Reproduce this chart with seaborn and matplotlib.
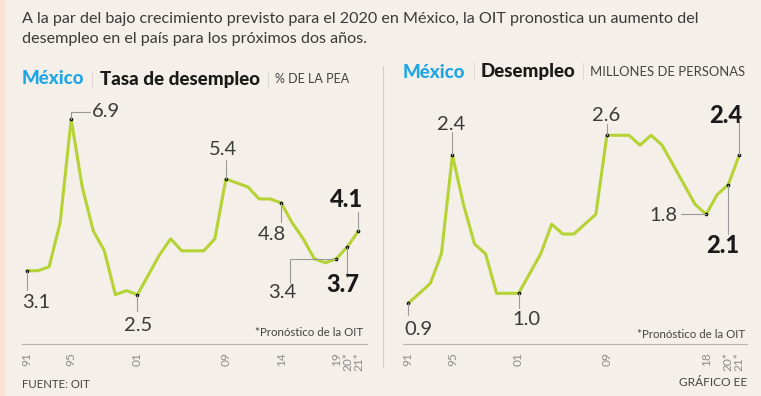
import numpy as np
import pandas as pd
import matplotlib
matplotlib.use("Agg")
import matplotlib.pyplot as plt
import seaborn as sns
from matplotlib.transforms import IdentityTransform
from matplotlib.patches import Rectangle
from matplotlib.lines import Line2D

# ---------------- data ----------------
years = list(range(1991, 2022))
tasa = [3.1, 3.1, 3.2, 4.3, 6.9, 5.2, 4.1, 3.6, 2.5, 2.6, 2.5, 3.0, 3.5, 3.9,
        3.6, 3.6, 3.6, 3.9, 5.4, 5.3, 5.2, 4.9, 4.9, 4.8, 4.3, 3.9, 3.4, 3.3,
        3.4, 3.7, 4.1]
desempleo = [0.9, 1.0, 1.1, 1.4, 2.4, 1.9, 1.5, 1.4, 1.0, 1.0, 1.0, 1.2, 1.4,
             1.7, 1.6, 1.6, 1.7, 1.8, 2.6, 2.6, 2.6, 2.5, 2.6, 2.5, 2.3, 2.1,
             1.9, 1.8, 2.0, 2.1, 2.4]

left_ticks = [1991, 1995, 2001, 2009, 2014, 2019, 2020, 2021]
left_ticklabels = ["91", "95", "01", "09", "14", "19", "20*", "21*"]
right_ticks = [1991, 1995, 2001, 2009, 2018, 2020, 2021]
right_ticklabels = ["91", "95", "01", "09", "18", "20*", "21*"]

title_text = ("A la par del bajo crecimiento previsto para el 2020 en México, la OIT pronostica un aumento del\n"
              "desempleo en el país para los próximos dos años.")

# ---------------- style ----------------
W, H = 761, 396
BG = "#f4efe8"
LINE = "#b5d334"
BLUE = "#1ea6e6"
GRAY = "#8c8c8c"
DARK = "#1a1a1a"

sns.set_theme(style="white")
plt.rcParams["font.family"] = ["Lato", "DejaVu Sans"]

fig = plt.figure(figsize=(W / 100, H / 100), dpi=100)
fig.patch.set_facecolor(BG)
fig.patches.append(Rectangle((0, 0), 5 / W, 1, transform=fig.transFigure,
                             facecolor="#fbe2d5", edgecolor="none", zorder=0))


def fx(x):
    return x / W


def fy(y):
    return 1 - y / H


def make_ax(x0, x1, y0, y1):
    return fig.add_axes([fx(x0), fy(y1), fx(x1) - fx(x0), fy(y0) - fy(y1)])


axL = make_ax(22, 367, 100, 344)
axR = make_ax(403, 747, 100, 344)

dfL = pd.DataFrame({"year": years, "value": tasa})
dfR = pd.DataFrame({"year": years, "value": desempleo})

for ax, df, xlim, ylim, ticks, labels in [
    (axL, dfL, (1990.55, 2021.77), (1.263, 7.38), left_ticks, left_ticklabels),
    (axR, dfR, (1990.52, 2021.70), (0.487, 2.957), right_ticks, right_ticklabels),
]:
    ax.set_facecolor("none")
    sns.lineplot(data=df, x="year", y="value", ax=ax, color=LINE, linewidth=2.2,
                 zorder=3)
    ax.set_xlim(*xlim)
    ax.set_ylim(*ylim)
    for s in ["top", "right", "left"]:
        ax.spines[s].set_visible(False)
    ax.spines["bottom"].set_color("#b8b4ad")
    ax.spines["bottom"].set_linewidth(0.8)
    ax.set_yticks([])
    ax.set_xlabel("")
    ax.set_ylabel("")
    ax.set_xticks(ticks)
    ax.set_xticklabels(labels, rotation=90, fontsize=8.6, color=GRAY,
                       fontweight="normal", va="top", ha="center")
    ax.tick_params(axis="x", length=0, pad=6)

# ---------------- annotations ----------------
# (year, text-offset dx, dy (pixels, image y downward), ha, bold, leader path)
left_ann = [
    (1995, 21, -7.5, "left", False, [(0, 0), (0, -7.5), (19, -7.5)]),
    (1991, -5, 32, "left", False, [(0, 0), (0, 19)]),
    (2001, 0.5, 31, "center", False, [(0, 0), (0, 16)]),
    (2009, -3, -29, "center", False, [(0, 0), (0, -19)]),
    (2014, -9, 32, "center", False, [(0, 0), (0, 19)]),
    (2019, -54, 34, "center", False, [(0, 0), (-46, 0), (-46, 24)]),
    (2020, -5, 38, "center", True, [(0, 0), (0, 30)]),
    (2021, -12, -31, "center", True, [(0, 0), (0, -19)]),
]
right_ann = [
    (1995, -1, -31, "center", False, [(0, 0), (0, -23)]),
    (1991, 10, 26, "center", False, [(0, 0), (0, 12)]),
    (2001, 8, 26, "center", False, [(0, 0), (0, 15)]),
    (2009, -1, -20, "center", False, [(0, 0), (0, -11)]),
    (2018, -29, 1, "right", False, [(0, 0), (-25, 0)]),
    (2020, -6, 61, "center", True, [(0, 0), (0, 49)]),
    (2021, -14, -40, "center", True, [(0, 0), (0, -33)]),
]

fig.canvas.draw()
for ax, df, anns in [(axL, dfL, left_ann), (axR, dfR, right_ann)]:
    for yr, dx, dy, ha, bold, path in anns:
        val = float(df.loc[df["year"] == yr, "value"].iloc[0])
        px, py = ax.transData.transform((yr, val))
        xs = [px + p[0] for p in path]
        ys = [py - p[1] for p in path]
        fig.add_artist(Line2D(xs, ys, transform=IdentityTransform(),
                              color="#9a9a9a", linewidth=0.8, zorder=2))
        ax.scatter([yr], [val], s=7, color="#111111", zorder=5, linewidths=0)
        if bold:
            fig.text(px + dx, py - dy, f"{val:.1f}", transform=IdentityTransform(),
                     ha=ha, va="center", fontsize=17, fontweight="black",
                     color=DARK)
        else:
            fig.text(px + dx, py - dy, f"{val:.1f}", transform=IdentityTransform(),
                     ha=ha, va="center", fontsize=14.5, fontweight="normal",
                     color="#3a3a3a")

# footnotes
NOTE = "#444444"
fig.text(fx(363), fy(333), "*Pronóstico de la OIT", ha="right", va="center",
         fontsize=8.3, fontweight="normal", color=NOTE)
fig.text(fx(745), fy(334), "*Pronóstico de la OIT", ha="right", va="center",
         fontsize=8.3, fontweight="normal", color=NOTE)
fig.text(fx(22), fy(384), "FUENTE: OIT", ha="left", va="center",
         fontsize=8.2, fontweight="normal", color=NOTE)
fig.text(fx(747), fy(383), "GRÁFICO EE", ha="right", va="center",
         fontsize=8.6, fontweight="normal", color=NOTE)

# title
fig.text(fx(22), fy(29), title_text, ha="left", va="center", fontsize=11.6,
         fontweight="normal", color="#3a3a3a", linespacing=1.5)

# panel headings (pieces chained left to right)
renderer = fig.canvas.get_renderer()


def heading(x, y, parts):
    cur = x
    for txt, size, weight, color, gap in parts:
        t = fig.text(fx(cur), fy(y), txt, ha="left", va="center", fontsize=size,
                     fontweight=weight, color=color)
        bb = t.get_window_extent(renderer=renderer)
        cur = cur + bb.width + gap


heading(22, 79, [
    ("México", 13.5, "black", BLUE, 6),
    ("|", 13, "light", "#8a8a8a", 5),
    ("Tasa de desempleo", 13.5, "black", DARK, 6),
    ("|", 13, "light", "#8a8a8a", 5),
    ("% DE LA PEA", 9, "normal", NOTE, 0),
])
heading(403, 72, [
    ("México", 13.5, "black", BLUE, 6),
    ("|", 13, "light", "#8a8a8a", 5),
    ("Desempleo", 13.5, "black", DARK, 6),
    ("|", 13, "light", "#8a8a8a", 5),
    ("MILLONES DE PERSONAS", 9.4, "normal", NOTE, 0),
])

# separator
fig.add_artist(Line2D([fx(383), fx(383)], [fy(66), fy(367)],
                      transform=fig.transFigure, color="#d3cec6", linewidth=0.8))

fig.savefig("out.png", dpi=100, facecolor=BG)
